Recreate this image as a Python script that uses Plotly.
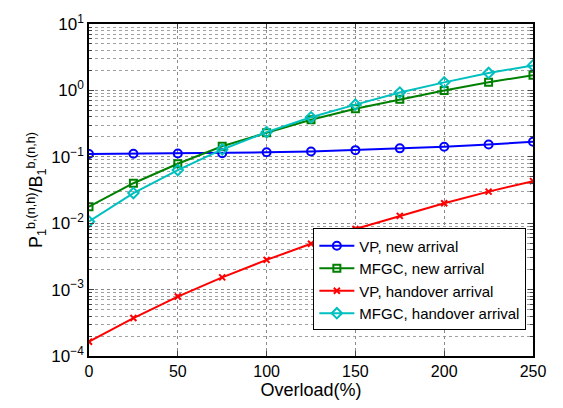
import plotly.graph_objects as go

overload = [0, 25, 50, 75, 100, 125, 150, 175, 200, 225, 250]
vp_new = [0.110, 0.111, 0.112, 0.113, 0.117, 0.120, 0.126, 0.134, 0.142, 0.153, 0.169]
mfgc_new = [0.0177, 0.040, 0.0786, 0.144, 0.230, 0.361, 0.53, 0.736, 1.0, 1.33, 1.69]
vp_ho = [1.64e-4, 3.73e-4, 7.85e-4, 1.53e-3, 2.8e-3, 4.9e-3, 8.2e-3, 0.0129, 0.020, 0.0299, 0.043]
mfgc_ho = [0.0106, 0.0284, 0.063, 0.129, 0.235, 0.393, 0.61, 0.93, 1.32, 1.83, 2.38]

series = [
    ("VP, new arrival", vp_new, "#0000FF", "circle-open", 8),
    ("MFGC, new arrival", mfgc_new, "#008000", "square-open", 7),
    ("VP, handover arrival", vp_ho, "#FF0000", "x-thin-open", 6),
    ("MFGC, handover arrival", mfgc_ho, "#00BFBF", "diamond-open", 8),
]

y_major = [1e-4, 1e-3, 1e-2, 1e-1, 1e0, 1e1]
y_major_text = ["10<sup>\u22124</sup>", "10<sup>\u22123</sup>", "10<sup>\u22122</sup>",
                "10<sup>\u22121</sup>", "10<sup>0</sup>", "10<sup>1</sup>"]
y_minor = [k * 10.0 ** e for e in range(-4, 1) for k in range(2, 10)]
x_ticks = [0, 50, 100, 150, 200, 250]

fig = go.Figure()
for name, vals, color, sym, sz in series:
    fig.add_trace(go.Scatter(
        x=overload, y=vals, name=name, mode="lines+markers",
        line=dict(color=color, width=2),
        marker=dict(symbol=sym, size=sz, color=color, line=dict(color=color, width=2)),
    ))

font = "Liberation Sans, Arial, sans-serif"
grid = dict(showgrid=True, gridcolor="#8a8a8a", griddash="dot", gridwidth=1)

fig.update_layout(
    width=563, height=408,
    margin=dict(l=89, r=30, t=15, b=43),
    paper_bgcolor="white", plot_bgcolor="white",
    font=dict(family=font, size=15, color="black"),
    legend=dict(x=0.985, y=0.077, xanchor="right", yanchor="bottom",
                bordercolor="black", borderwidth=1, bgcolor="white",
                font=dict(size=15), tracegroupgap=0, itemwidth=35),
    showlegend=True,
)
fig.update_xaxes(
    range=[0, 250], tickvals=x_ticks, ticks="inside", ticklen=5,
    showline=True, linecolor="black", linewidth=1.5, mirror="ticks",
    zeroline=False, tickfont=dict(size=16),
    title=dict(text="Overload(%)", font=dict(size=18), standoff=3),
    **grid,
)
fig.update_yaxes(
    type="log", range=[-4, 1], tickvals=y_major, ticktext=y_major_text,
    ticks="inside", ticklen=5,
    showline=True, linecolor="black", linewidth=1.5, mirror="ticks",
    zeroline=False, tickfont=dict(size=17),
    minor=dict(tickvals=y_minor, ticks="inside", ticklen=3, showgrid=True,
               gridcolor="#a0a0a0", griddash="dot", gridwidth=1),
    title=dict(text="P<sub>1</sub><sup>b,(n,h)</sup>/B<sub>1</sub><sup>b,(n,h)</sup>",
               font=dict(size=18), standoff=4),
    **grid,
)

fig.write_html("out.html")
